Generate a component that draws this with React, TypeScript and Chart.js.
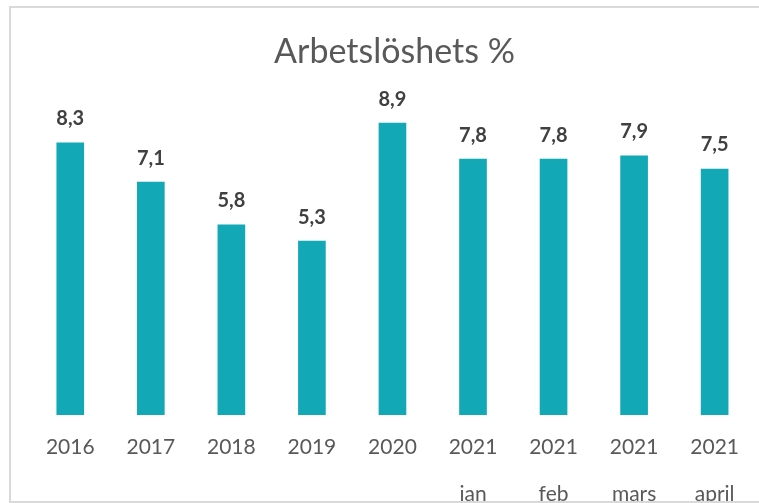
import React, { useEffect, useRef } from "react";
import { Chart, registerables } from "chart.js";

Chart.register(...registerables);

const categories: (string | string[])[] = [
  "2016",
  "2017",
  "2018",
  "2019",
  "2020",
  ["2021", "", "jan"],
  ["2021", "", "feb"],
  ["2021", "", "mars"],
  ["2021", "", "april"],
];
const values: number[] = [8.3, 7.1, 5.8, 5.3, 8.9, 7.8, 7.8, 7.9, 7.5];
const titleText = "Arbetslöshets %";

const CANVAS_W = 748;
const CANVAS_H = 540;

const valueLabels = {
  id: "valueLabels",
  afterDatasetsDraw(chart: any) {
    const ctx = chart.ctx;
    const meta = chart.getDatasetMeta(0);
    ctx.save();
    ctx.font = "bold 20px Lato";
    ctx.fillStyle = "#404040";
    ctx.textAlign = "center";
    ctx.textBaseline = "middle";
    meta.data.forEach((bar: any, i: number) => {
      const v = chart.data.datasets[0].data[i] as number;
      ctx.fillText(v.toFixed(1).replace(".", ","), bar.x, bar.y - 24);
    });
    ctx.restore();
  },
};

export default function App() {
  const ref = useRef<HTMLCanvasElement | null>(null);
  useEffect(() => {
    if (!ref.current) return;
    const chart = new Chart(ref.current, {
      type: "bar",
      data: {
        labels: categories,
        datasets: [
          {
            data: values,
            backgroundColor: "#13A8B6",
            barThickness: 27,
          },
        ],
      },
      options: {
        animation: false,
        responsive: false,
        layout: { padding: { left: 19, right: 0, top: 0, bottom: 0 } },
        plugins: {
          legend: { display: false },
          tooltip: { enabled: false },
          title: {
            display: true,
            text: titleText,
            color: "#595959",
            font: { family: "Lato", size: 34, weight: "normal", lineHeight: 1.2 },
            padding: { top: 23.6, bottom: 14.6 },
          },
        },
        scales: {
          x: {
            grid: { display: false, drawTicks: false },
            border: { display: false },
            ticks: {
              color: "#595959",
              font: { family: "Lato", size: 21, lineHeight: 1.12 },
              padding: 20,
              maxRotation: 0,
              autoSkip: false,
            },
            afterFit: (scale: any) => {
              scale.height = CANVAS_H - 407;
            },
          },
          y: {
            display: false,
            min: 0,
            max: 10,
          },
        },
      },
      plugins: [valueLabels],
    });
    return () => chart.destroy();
  }, []);

  return (
    <div
      style={{
        position: "absolute",
        left: 9,
        top: 6,
        width: 750,
        height: 497,
        boxSizing: "border-box",
        borderLeft: "2px solid #d9d9d9",
        borderTop: "2px solid #d9d9d9",
        borderBottom: "2px solid #d9d9d9",
        overflow: "hidden",
        background: "#ffffff",
      }}
    >
      <canvas
        ref={ref}
        width={CANVAS_W}
        height={CANVAS_H}
        style={{ display: "block", width: CANVAS_W, height: CANVAS_H }}
      />
    </div>
  );
}
